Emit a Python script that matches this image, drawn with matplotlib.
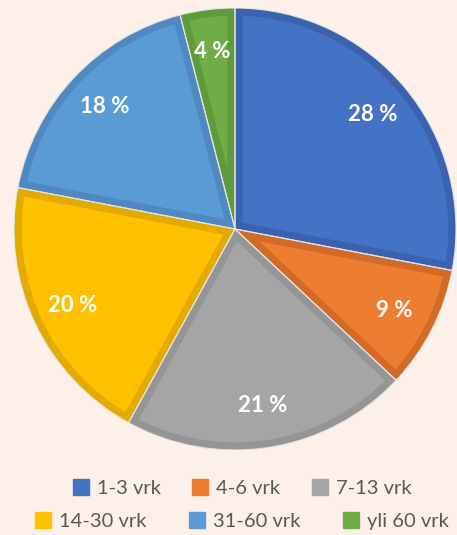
import matplotlib
matplotlib.use("Agg")
import matplotlib.pyplot as plt
from matplotlib.patches import Patch, Wedge

categories = ["1-3 vrk", "4-6 vrk", "7-13 vrk", "14-30 vrk", "31-60 vrk", "yli 60 vrk"]
values = [28, 9, 21, 20, 18, 4]
colors = ["#4472C4", "#ED7D31", "#A5A5A5", "#FFC000", "#5B9BD5", "#70AD47"]
edges = ["#3A62AE", "#D26B27", "#959595", "#E3AA00", "#4F89C0", "#5F9A3C"]
bg = "#FDF0E9"

fig = plt.figure(figsize=(4.57, 5.35), dpi=100, facecolor=bg)
cx, cy, r = 235, 535 - 229, 221
ax = fig.add_axes([(cx - r) / 457, (cy - r) / 535, 2 * r / 457, 2 * r / 535])
ax.set_facecolor(bg)

wedges, texts, autotexts = ax.pie(
    values, colors=colors, startangle=90, counterclock=False, radius=1,
    autopct=lambda p: f"{p:.0f} %", pctdistance=0.81,
    textprops=dict(color="white", fontsize=16, fontweight="bold", family="Lato"))

for w, ec in zip(wedges, edges):
    w.set_edgecolor(ec)
    w.set_linewidth(11)
    w.set_clip_path(w)
    w.set_clip_on(True)
    sep = Wedge(w.center, w.r, w.theta1, w.theta2, fill=False,
                edgecolor="#E4E4E4", linewidth=0.8, zorder=w.get_zorder() + 0.5)
    ax.add_patch(sep)
for t in autotexts:
    t.set_zorder(5)

ax.set_xlim(-1, 1)
ax.set_ylim(-1, 1)
ax.set_aspect("equal")
ax.axis("off")

handles = [Patch(facecolor=c, edgecolor=c) for c in colors]
common = dict(frameon=False, ncol=3, handlelength=0.8, handleheight=0.8,
              handletextpad=0.4, columnspacing=1.55, labelcolor="#595959",
              prop=dict(family="Lato", size=14.5))
leg1 = fig.legend(handles[:3], categories[:3], loc="center", bbox_to_anchor=(0.53, 1 - 488 / 535), **common)
common["columnspacing"] = 2.1
leg2 = fig.legend(handles[3:], categories[3:], loc="center", bbox_to_anchor=(0.53, 1 - 521 / 535), **common)

fig.savefig("out.png", dpi=100, facecolor=bg)
